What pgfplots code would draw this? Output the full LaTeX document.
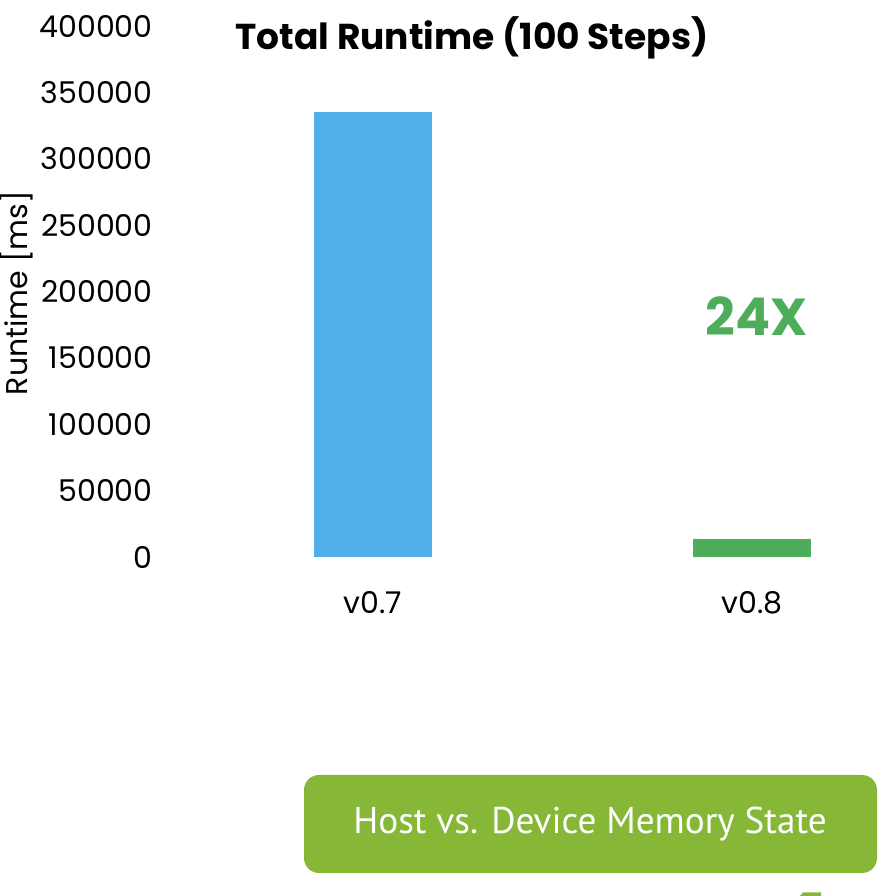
\documentclass[border=0pt]{standalone}
\usepackage{fontspec}
\setmainfont{Poppins}
\newfontfamily\boxfont{PT Sans}
\usepackage{pgfplots}
\pgfplotsset{compat=1.18}
\definecolor{barblue}{HTML}{50AEEA}
\definecolor{bargreen}{HTML}{4DAD5B}
\definecolor{boxgreen}{HTML}{86B737}
\begin{document}
\begin{tikzpicture}
\path[use as bounding box] (0,0) rectangle (441pt,448pt);
\begin{axis}[
  at={(76.5pt,169.5pt)}, anchor=south west,
  scale only axis, width=362.5pt, height=265.5pt,
  xmin=-0.5805, xmax=1.3325, ymin=0, ymax=400000,
  axis line style={draw=none}, major tick length=0pt,
  ytick={0,50000,...,400000}, scaled y ticks=false,
  yticklabel style={/pgf/number format/fixed, /pgf/number format/1000 sep={}, anchor=east, inner sep=0pt},
  xtick={0,1}, xticklabels={v0.7,v0.8},
  xticklabel style={anchor=center, yshift=-23pt},
  tick label style={font=\fontsize{15}{18}\selectfont},
  /pgf/number format/assume math mode=true,
  ybar, bar width=59pt, bar shift=0pt,
  clip=false,
]
\addplot[fill=barblue, draw=none, bar shift=0pt] coordinates {(0,335000)};
\addplot[fill=bargreen, draw=none, bar shift=0pt] coordinates {(1,13700)};
\end{axis}
\node[rotate=90, font=\fontsize{15}{18}\selectfont] at (8pt,301.5pt) {Runtime [ms]};
\node[font=\fontsize{18}{21}\selectfont\bfseries] at (236pt,429pt) {Total Runtime (100 Steps)};
\node[font=\fontsize{26}{30}\selectfont\bfseries, text=bargreen] at (378.5pt,290pt) {24X};
\fill[boxgreen, rounded corners=7.5pt] (152pt,11.5pt) rectangle (438.5pt,60.5pt);
\node[font=\boxfont\fontsize{18.6}{22}\selectfont, text=white, anchor=base] at (295pt,31pt) {Host vs. Device Memory State};
\fill[boxgreen] (400pt,0pt) -- (401.5pt,1.8pt) -- (410.5pt,1.8pt) -- (410.5pt,0pt) -- cycle;
\end{tikzpicture}
\end{document}
